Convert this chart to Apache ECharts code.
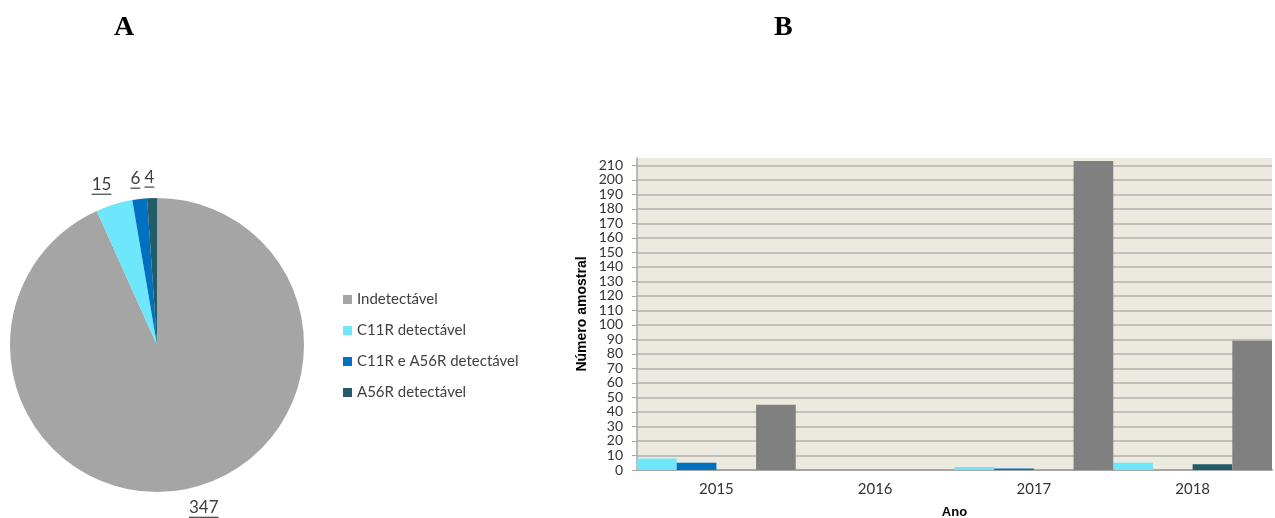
<!DOCTYPE html>
<html><head><meta charset="utf-8">
<script src="https://cdn.jsdelivr.net/npm/echarts@6/dist/echarts.min.js"></script>
<style>html,body{margin:0;padding:0;background:#fff}#c{width:1275px;height:518px}</style>
</head><body><div id="c"></div>
<script>
const categories = ['Indetectável', 'C11R detectável', 'C11R e A56R detectável', 'A56R detectável'];
const pieValues = [347, 15, 6, 4];
const years = ['2015', '2016', '2017', '2018'];
const barIndetectavel = [45, 0, 213, 89];
const barC11R = [8, 0, 2, 5];
const barC11RA56R = [5, 0, 1, 0];
const barA56R = [0, 0, 0, 4];
const yTicks = [0, 10, 20, 30, 40, 50, 60, 70, 80, 90, 100, 110, 120, 130, 140, 150, 160, 170, 180, 190, 200, 210];

const colors = ['#a5a5a5', '#6ee6fc', '#0070c0', '#235b68'];
const barGray = '#808080';
const font = 'Lato, "Liberation Sans", sans-serif';
const gridColor = '#b0b0b0';
const plotBg = '#ece9df';

const chart = echarts.init(document.getElementById('c'), null, {renderer: 'canvas'});
const barOrder = [
  {name: categories[1], data: barC11R, color: colors[1]},
  {name: categories[2], data: barC11RA56R, color: colors[2]},
  {name: categories[3], data: barA56R, color: colors[3]},
  {name: categories[0], data: barIndetectavel, color: barGray}
];

chart.setOption({
  animation: false,
  graphic: [
    {type: 'text', left: 114, top: 14, style: {text: 'A', font: 'bold 28px "Liberation Serif", serif', fill: '#000'}},
    {type: 'text', left: 774, top: 14, style: {text: 'B', font: 'bold 28px "Liberation Serif", serif', fill: '#000'}}
  ],
  legend: {
    data: categories.map((n, i) => ({name: n, itemStyle: {color: colors[i]}})),
    orient: 'vertical', left: 338, top: 287,
    icon: 'rect', itemWidth: 9, itemHeight: 9, itemGap: 16,
    textStyle: {fontFamily: font, fontSize: 15, color: '#404040'},
    selectedMode: false
  },
  grid: {left: 637, right: 3, top: 158, bottom: 48, outerBoundsMode: 'none', containLabel: false,
    show: true, backgroundColor: plotBg, borderWidth: 0},
  xAxis: {
    type: 'category', data: years,
    axisLine: {lineStyle: {color: '#a6a6a6', width: 2}},
    axisTick: {show: false},
    axisLabel: {fontFamily: font, fontSize: 15, color: '#333', margin: 12},
    name: 'Ano', nameLocation: 'middle', nameGap: 36,
    nameTextStyle: {fontFamily: 'Arial, "Liberation Sans", sans-serif', fontSize: 13, fontWeight: 'bold', color: '#000'}
  },
  yAxis: {
    type: 'value', min: 0, max: 215, interval: 10,
    axisLine: {show: true, lineStyle: {color: '#a6a6a6', width: 1.5}},
    axisTick: {show: true, length: 5, lineStyle: {color: '#a6a6a6'}},
    axisLabel: {fontFamily: font, fontSize: 14, color: '#333', margin: 14,
      showMaxLabel: false, showMinLabel: true,
      formatter: v => yTicks.indexOf(v) >= 0 ? String(v) : ''},
    splitLine: {showMaxLine: false, lineStyle: {color: gridColor, width: 1.5}},
    name: 'Número amostral', nameLocation: 'middle', nameGap: 48, nameRotate: 90,
    nameTextStyle: {fontFamily: 'Arial, "Liberation Sans", sans-serif', fontSize: 14, fontWeight: 'bold', color: '#000'}
  },
  series: [
    {
      type: 'pie', center: [157, 345], radius: 147, startAngle: 90, clockwise: true,
      avoidLabelOverlap: false,
      data: categories.map((n, i) => ({name: n, value: pieValues[i], itemStyle: {color: colors[i]}})),
      label: {show: true, position: 'outside', distanceToLabelLine: -3,
        formatter: p => '{v|' + p.value + '}\n{u|}',
        rich: {
          v: {fontFamily: font, fontSize: 17, color: '#404040', lineHeight: 18},
          u: {width: '100%', height: 1.2, backgroundColor: '#404040'}
        }},
      labelLine: {show: false, length: 20, length2: 0},
      emphasis: {disabled: true}
    }
  ].concat(barOrder.map(s => ({
    type: 'bar', name: s.name, data: s.data, barGap: 0, barCategoryGap: 0,
    itemStyle: {color: s.color}, emphasis: {disabled: true}
  })))
});
</script></body></html>
